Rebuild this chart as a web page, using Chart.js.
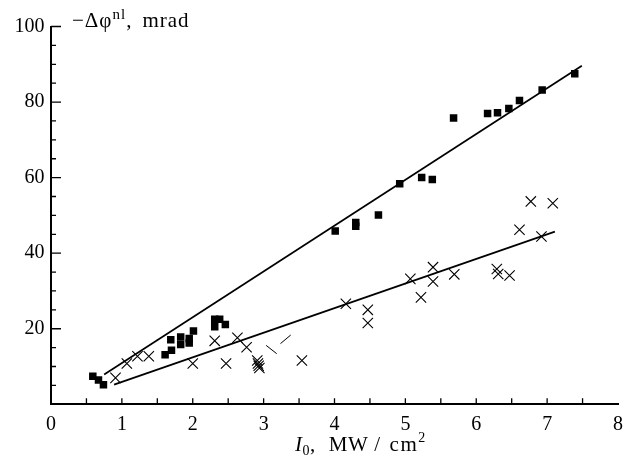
<!DOCTYPE html>
<html><head><meta charset="utf-8">
<script src="https://cdn.jsdelivr.net/npm/chart.js@4.4.1/dist/chart.umd.min.js"></script>
<style>
html,body{margin:0;padding:0;background:#fff;}
#wrap{position:relative;width:631px;height:457px;overflow:hidden;background:#fff;}
canvas{position:absolute;left:0;top:0;}
.lbl{position:absolute;font-family:'Liberation Serif',serif;font-size:21px;line-height:21px;color:#000;white-space:nowrap;letter-spacing:1px;}
.sup{font-size:15px;line-height:0;position:relative;top:-8px;}
.sup2{font-size:14px;line-height:0;position:relative;top:-9px;}
.sub{font-size:14px;line-height:0;position:relative;top:4px;}
</style></head><body>
<div id="wrap"><canvas id="c" width="631" height="457"></canvas>
<div class="lbl" style="left:72px;top:10px;">−Δφ<span class="sup">nl</span>,<span style="margin-left:10px">mrad</span></div>
<div class="lbl" style="left:295px;top:434px;letter-spacing:0.5px;"><i>I</i><span class="sub">0</span>,<span style="margin-left:13px">MW</span><span style="margin-left:6px">/</span><span style="margin-left:9px;letter-spacing:1.5px">cm</span><span class="sup2">2</span></div>
</div>
<script>
// filled squares (upper series)
const squareX = [0.59,0.67,0.74,1.61,1.70,1.69,1.83,1.83,1.95,1.95,2.01,2.31,2.38,2.31,2.46,4.01,4.30,4.30,4.62,4.92,5.23,5.38,5.68,6.16,6.30,6.46,6.61,6.93,7.39];
const squareY = [7.4,6.4,5.2,13.1,14.3,17.1,17.8,15.8,17.4,16.2,19.4,22.5,22.5,20.5,21.1,45.9,48.1,47.1,50.1,58.4,60.0,59.5,75.8,77.0,77.2,78.3,80.4,83.2,87.5];
// crosses (lower series)
const crossX = [0.91,1.07,1.22,1.38,2.00,2.31,2.47,2.63,2.76,2.91,2.92,2.93,2.94,3.54,4.16,4.47,4.47,5.07,5.22,5.39,5.39,5.69,6.29,6.31,6.47,6.61,6.77,6.92,7.08];
const crossY = [7.0,10.8,12.7,12.7,10.8,16.8,10.8,17.6,15.1,11.6,10.8,10.2,9.6,11.6,26.6,25.0,21.5,33.2,28.3,36.3,32.5,34.4,35.8,34.5,34.1,46.2,53.7,44.4,53.2];
// broken cross fragments
const fragX = [3.11,3.31];
const fragY = [14.5,17.2];
const fragAngle = [38,-40];
// fitted straight lines (end points)
const upperFitX = [0.75,7.49];
const upperFitY = [7.9,89.6];
const lowerFitX = [0.89,7.11];
const lowerFitY = [5.2,45.7];
// axes
const xTickLabels = ['0','1','2','3','4','5','6','7','8'];
const yTickLabels = ['20','40','60','80','100'];
const xMinor = [0.5,1,1.5,2,2.5,3,3.5,4,4.5,5,5.5,6,6.5,7,7.5];
const yMinor = [5,10,15,20,25,30,35,40,45,50,55,60,65,70,75,80,85,90,95,100];

const pts = (xs, ys) => xs.map((x, i) => ({x, y: ys[i]}));
const FONT = {family: "'Liberation Serif', serif", size: 20};

const inTicks = {
  id: 'inTicks',
  afterDraw(chart) {
    const {ctx, scales: {x, y}} = chart;
    ctx.save();
    ctx.strokeStyle = '#000';
    ctx.lineWidth = 1.3;
    ctx.beginPath();
    xMinor.forEach(v => {
      const px = x.getPixelForValue(v);
      ctx.moveTo(px, y.bottom); ctx.lineTo(px, y.bottom - 6);
    });
    yMinor.forEach(v => {
      const py = y.getPixelForValue(v);
      const len = yTickLabels.includes(String(v)) ? 10 : 5;
      ctx.moveTo(x.left, py); ctx.lineTo(x.left + len, py);
    });
    ctx.stroke();
    ctx.restore();
  }
};

new Chart(document.getElementById('c'), {
  type: 'scatter',
  data: {
    datasets: [
      {data: pts(upperFitX, upperFitY), showLine: true, borderColor: '#000', borderWidth: 1.7, pointRadius: 0, fill: false},
      {data: pts(lowerFitX, lowerFitY), showLine: true, borderColor: '#000', borderWidth: 1.7, pointRadius: 0, fill: false},
      {data: pts(squareX, squareY), pointStyle: 'rect', pointRadius: 5.3, backgroundColor: '#000', borderWidth: 0},
      {data: pts(crossX, crossY), pointStyle: 'crossRot', pointRadius: 7.3, borderColor: '#000', borderWidth: 1.1},
      {data: pts(fragX, fragY), pointStyle: 'line', pointRadius: 6.7, pointRotation: fragAngle, borderColor: '#000', borderWidth: 1}
    ]
  },
  options: {
    responsive: false,
    animation: false,
    events: [],
    layout: {padding: {top: 26.5, right: 7, left: 0, bottom: 0}},
    plugins: {legend: {display: false}, tooltip: {enabled: false}},
    scales: {
      x: {
        type: 'linear', min: 0, max: 8,
        grid: {display: false, drawTicks: false},
        border: {display: true, width: 2, color: '#000'},
        ticks: {stepSize: 1, font: FONT, color: '#000', padding: 8, maxRotation: 0,
          callback: (v) => xTickLabels[Math.round(v)] ?? ''},
        afterFit: s => { s.height = 52.7; }
      },
      y: {
        type: 'linear', min: 0, max: 100,
        grid: {display: false, drawTicks: false},
        border: {display: true, width: 2, color: '#000'},
        ticks: {stepSize: 5, autoSkip: false, font: FONT, color: '#000', padding: 6.5,
          callback: (v) => yTickLabels.includes(String(v)) ? String(v) : ''},
        afterFit: s => { s.width = 51; }
      }
    }
  },
  plugins: [inTicks]
});
</script>
</body></html>
